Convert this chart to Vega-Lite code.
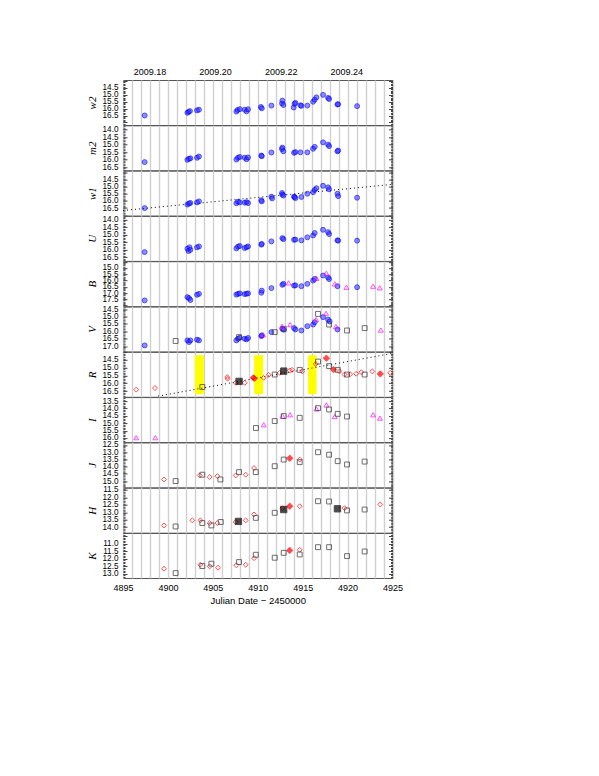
{
"$schema":"https://vega.github.io/schema/vega-lite/v6.json",
"padding":{"left":85,"top":66,"right":10,"bottom":10},
"background":"white",
"config":{"view":{"stroke":"#555555","strokeWidth":1},"axis":{"labelFont":"Liberation Sans","labelFontSize":8.2,"labelColor":"#000000","tickColor":"#444444","tickWidth":1,"titleColor":"#000000","labelOverlap":false}},
"datasets":{
"pts":[
{"b":"w2","k":"u","x":4897.41,"y":16.5},{"b":"w2","k":"u","x":4902.17,"y":16.3},{"b":"w2","k":"u","x":4902.3,"y":16.24},{"b":"w2","k":"u","x":4902.45,"y":16.18},{"b":"w2","k":"u","x":4903.24,"y":16.13},{"b":"w2","k":"u","x":4903.46,"y":16.08},{"b":"w2","k":"u","x":4907.62,"y":16.22},{"b":"w2","k":"u","x":4907.75,"y":16.1},{"b":"w2","k":"u","x":4908.0,"y":16.04},{"b":"w2","k":"u","x":4908.55,"y":16.08},{"b":"w2","k":"u","x":4908.75,"y":16.2},{"b":"w2","k":"u","x":4908.92,"y":16.05},{"b":"w2","k":"u","x":4910.35,"y":15.88},{"b":"w2","k":"u","x":4910.45,"y":15.98},{"b":"w2","k":"u","x":4911.52,"y":15.78},{"b":"w2","k":"u","x":4912.7,"y":15.62},{"b":"w2","k":"u","x":4912.74,"y":15.42},{"b":"w2","k":"u","x":4912.85,"y":15.74},{"b":"w2","k":"u","x":4914.0,"y":15.92},{"b":"w2","k":"u","x":4914.1,"y":15.65},{"b":"w2","k":"u","x":4914.19,"y":15.58},{"b":"w2","k":"u","x":4914.75,"y":15.76},{"b":"w2","k":"u","x":4914.86,"y":15.8},{"b":"w2","k":"u","x":4915.52,"y":15.78},{"b":"w2","k":"u","x":4916.16,"y":15.5},{"b":"w2","k":"u","x":4916.34,"y":15.35},{"b":"w2","k":"u","x":4916.53,"y":15.18},{"b":"w2","k":"u","x":4917.27,"y":15.0},{"b":"w2","k":"u","x":4917.83,"y":15.22},{"b":"w2","k":"u","x":4917.94,"y":15.3},{"b":"w2","k":"u","x":4918.87,"y":15.7},{"b":"w2","k":"u","x":4918.95,"y":15.68},{"b":"w2","k":"u","x":4921.06,"y":15.82},
{"b":"m2","k":"u","x":4897.41,"y":16.17},{"b":"m2","k":"u","x":4902.17,"y":16.02},{"b":"m2","k":"u","x":4902.35,"y":15.95},{"b":"m2","k":"u","x":4902.5,"y":15.92},{"b":"m2","k":"u","x":4903.24,"y":15.88},{"b":"m2","k":"u","x":4903.46,"y":15.8},{"b":"m2","k":"u","x":4907.62,"y":16.0},{"b":"m2","k":"u","x":4907.8,"y":15.88},{"b":"m2","k":"u","x":4908.0,"y":15.83},{"b":"m2","k":"u","x":4908.55,"y":15.88},{"b":"m2","k":"u","x":4908.75,"y":15.98},{"b":"m2","k":"u","x":4908.92,"y":15.86},{"b":"m2","k":"u","x":4910.4,"y":15.73},{"b":"m2","k":"u","x":4910.45,"y":15.78},{"b":"m2","k":"u","x":4911.52,"y":15.53},{"b":"m2","k":"u","x":4912.7,"y":15.3},{"b":"m2","k":"u","x":4912.74,"y":15.2},{"b":"m2","k":"u","x":4912.85,"y":15.45},{"b":"m2","k":"u","x":4914.04,"y":15.55},{"b":"m2","k":"u","x":4914.19,"y":15.5},{"b":"m2","k":"u","x":4914.75,"y":15.52},{"b":"m2","k":"u","x":4915.52,"y":15.52},{"b":"m2","k":"u","x":4916.16,"y":15.28},{"b":"m2","k":"u","x":4916.34,"y":15.15},{"b":"m2","k":"u","x":4917.27,"y":14.85},{"b":"m2","k":"u","x":4917.83,"y":15.0},{"b":"m2","k":"u","x":4917.94,"y":15.1},{"b":"m2","k":"u","x":4918.87,"y":15.45},{"b":"m2","k":"u","x":4918.95,"y":15.4},
{"b":"w1","k":"u","x":4897.41,"y":16.5},{"b":"w1","k":"u","x":4902.17,"y":16.25},{"b":"w1","k":"u","x":4902.35,"y":16.18},{"b":"w1","k":"u","x":4902.5,"y":16.14},{"b":"w1","k":"u","x":4903.24,"y":16.1},{"b":"w1","k":"u","x":4903.46,"y":16.03},{"b":"w1","k":"u","x":4907.62,"y":16.16},{"b":"w1","k":"u","x":4907.8,"y":16.05},{"b":"w1","k":"u","x":4908.0,"y":16.1},{"b":"w1","k":"u","x":4908.55,"y":16.12},{"b":"w1","k":"u","x":4908.75,"y":16.08},{"b":"w1","k":"u","x":4908.92,"y":16.15},{"b":"w1","k":"u","x":4910.4,"y":15.95},{"b":"w1","k":"u","x":4910.45,"y":16.03},{"b":"w1","k":"u","x":4911.52,"y":15.7},{"b":"w1","k":"u","x":4911.6,"y":15.82},{"b":"w1","k":"u","x":4912.7,"y":15.44},{"b":"w1","k":"u","x":4912.74,"y":15.55},{"b":"w1","k":"u","x":4912.85,"y":15.62},{"b":"w1","k":"u","x":4914.04,"y":15.7},{"b":"w1","k":"u","x":4914.1,"y":15.72},{"b":"w1","k":"u","x":4914.19,"y":15.8},{"b":"w1","k":"u","x":4914.86,"y":15.72},{"b":"w1","k":"u","x":4915.52,"y":15.49},{"b":"w1","k":"u","x":4916.16,"y":15.38},{"b":"w1","k":"u","x":4916.34,"y":15.22},{"b":"w1","k":"u","x":4916.53,"y":15.1},{"b":"w1","k":"u","x":4917.27,"y":14.93},{"b":"w1","k":"u","x":4917.83,"y":15.04},{"b":"w1","k":"u","x":4917.94,"y":15.18},{"b":"w1","k":"u","x":4918.87,"y":15.49},{"b":"w1","k":"u","x":4918.95,"y":15.66},{"b":"w1","k":"u","x":4921.06,"y":15.77},
{"b":"U","k":"u","x":4897.41,"y":16.17},{"b":"U","k":"u","x":4902.17,"y":15.94},{"b":"U","k":"u","x":4902.3,"y":16.1},{"b":"U","k":"u","x":4902.4,"y":15.85},{"b":"U","k":"u","x":4902.5,"y":16.02},{"b":"U","k":"u","x":4903.24,"y":15.85},{"b":"U","k":"u","x":4903.46,"y":15.79},{"b":"U","k":"u","x":4907.62,"y":15.92},{"b":"U","k":"u","x":4907.8,"y":15.8},{"b":"U","k":"u","x":4908.0,"y":15.76},{"b":"U","k":"u","x":4908.55,"y":15.9},{"b":"U","k":"u","x":4908.75,"y":15.84},{"b":"U","k":"u","x":4908.92,"y":15.79},{"b":"U","k":"u","x":4910.4,"y":15.67},{"b":"U","k":"u","x":4910.45,"y":15.62},{"b":"U","k":"u","x":4911.52,"y":15.45},{"b":"U","k":"u","x":4912.74,"y":15.23},{"b":"U","k":"u","x":4912.85,"y":15.3},{"b":"U","k":"u","x":4914.04,"y":15.34},{"b":"U","k":"u","x":4914.19,"y":15.33},{"b":"U","k":"u","x":4914.86,"y":15.38},{"b":"U","k":"u","x":4915.52,"y":15.18},{"b":"U","k":"u","x":4916.16,"y":15.05},{"b":"U","k":"u","x":4916.34,"y":14.89},{"b":"U","k":"u","x":4917.27,"y":14.67},{"b":"U","k":"u","x":4917.83,"y":14.83},{"b":"U","k":"u","x":4917.94,"y":14.96},{"b":"U","k":"u","x":4918.87,"y":15.38},{"b":"U","k":"u","x":4918.95,"y":15.4},{"b":"U","k":"u","x":4921.06,"y":15.4},
{"b":"B","k":"u","x":4897.41,"y":17.58},{"b":"B","k":"u","x":4902.17,"y":17.32},{"b":"B","k":"u","x":4902.35,"y":17.4},{"b":"B","k":"u","x":4902.5,"y":17.55},{"b":"B","k":"u","x":4903.24,"y":17.13},{"b":"B","k":"u","x":4903.46,"y":17.06},{"b":"B","k":"u","x":4907.62,"y":17.12},{"b":"B","k":"u","x":4907.8,"y":17.06},{"b":"B","k":"u","x":4908.0,"y":17.02},{"b":"B","k":"u","x":4908.55,"y":17.08},{"b":"B","k":"u","x":4908.75,"y":17.05},{"b":"B","k":"u","x":4908.92,"y":17.02},{"b":"B","k":"u","x":4910.4,"y":16.97},{"b":"B","k":"u","x":4910.45,"y":16.8},{"b":"B","k":"u","x":4911.52,"y":16.6},{"b":"B","k":"u","x":4912.74,"y":16.34},{"b":"B","k":"u","x":4912.85,"y":16.26},{"b":"B","k":"u","x":4914.04,"y":16.4},{"b":"B","k":"u","x":4914.19,"y":16.38},{"b":"B","k":"u","x":4914.86,"y":16.45},{"b":"B","k":"u","x":4915.52,"y":16.26},{"b":"B","k":"u","x":4916.16,"y":16.0},{"b":"B","k":"u","x":4916.34,"y":15.87},{"b":"B","k":"u","x":4917.27,"y":15.6},{"b":"B","k":"u","x":4917.83,"y":15.75},{"b":"B","k":"u","x":4917.94,"y":15.88},{"b":"B","k":"u","x":4918.87,"y":16.45},{"b":"B","k":"u","x":4921.06,"y":16.53},
{"b":"B","k":"m","x":4913.44,"y":16.18},{"b":"B","k":"m","x":4916.53,"y":15.82},{"b":"B","k":"m","x":4917.64,"y":15.42},{"b":"B","k":"m","x":4918.57,"y":16.26},{"b":"B","k":"m","x":4919.87,"y":16.53},{"b":"B","k":"m","x":4922.84,"y":16.45},{"b":"B","k":"m","x":4923.58,"y":16.58},
{"b":"V","k":"u","x":4897.41,"y":16.96},{"b":"V","k":"u","x":4902.17,"y":16.62},{"b":"V","k":"u","x":4902.35,"y":16.73},{"b":"V","k":"u","x":4902.5,"y":16.62},{"b":"V","k":"u","x":4903.24,"y":16.57},{"b":"V","k":"u","x":4903.46,"y":16.62},{"b":"V","k":"u","x":4907.62,"y":16.62},{"b":"V","k":"u","x":4907.8,"y":16.51},{"b":"V","k":"u","x":4908.0,"y":16.44},{"b":"V","k":"u","x":4908.55,"y":16.51},{"b":"V","k":"u","x":4908.75,"y":16.55},{"b":"V","k":"u","x":4908.92,"y":16.46},{"b":"V","k":"u","x":4910.4,"y":16.33},{"b":"V","k":"u","x":4910.45,"y":16.28},{"b":"V","k":"u","x":4911.52,"y":16.06},{"b":"V","k":"u","x":4912.74,"y":15.84},{"b":"V","k":"u","x":4912.9,"y":15.9},{"b":"V","k":"u","x":4914.04,"y":15.79},{"b":"V","k":"u","x":4914.19,"y":15.88},{"b":"V","k":"u","x":4914.86,"y":15.95},{"b":"V","k":"u","x":4915.52,"y":15.66},{"b":"V","k":"u","x":4916.16,"y":15.55},{"b":"V","k":"u","x":4916.34,"y":15.39},{"b":"V","k":"u","x":4917.27,"y":15.05},{"b":"V","k":"u","x":4917.83,"y":15.21},{"b":"V","k":"u","x":4918.0,"y":15.34},{"b":"V","k":"u","x":4918.87,"y":15.88},
{"b":"V","k":"b","x":4900.86,"y":16.66},{"b":"V","k":"b","x":4907.92,"y":16.4},{"b":"V","k":"b","x":4911.89,"y":16.06},{"b":"V","k":"b","x":4912.89,"y":15.84},{"b":"V","k":"b","x":4916.71,"y":14.83},{"b":"V","k":"b","x":4917.94,"y":15.55},{"b":"V","k":"b","x":4919.94,"y":15.95},{"b":"V","k":"b","x":4921.9,"y":15.79},
{"b":"V","k":"m","x":4910.6,"y":16.24},{"b":"V","k":"m","x":4912.7,"y":15.66},{"b":"V","k":"m","x":4913.6,"y":15.55},{"b":"V","k":"m","x":4916.5,"y":15.21},{"b":"V","k":"m","x":4917.6,"y":14.79},{"b":"V","k":"m","x":4918.7,"y":15.68},{"b":"V","k":"m","x":4923.7,"y":15.92},
{"b":"R","k":"r","x":4896.48,"y":16.41},{"b":"R","k":"r","x":4898.56,"y":16.31},{"b":"R","k":"r","x":4906.6,"y":15.6},{"b":"R","k":"r","x":4906.64,"y":15.71},{"b":"R","k":"r","x":4907.55,"y":15.97},{"b":"R","k":"r","x":4908.55,"y":15.97},{"b":"R","k":"r","x":4909.48,"y":15.65},{"b":"R","k":"r","x":4909.66,"y":15.71},{"b":"R","k":"r","x":4910.66,"y":15.65},{"b":"R","k":"r","x":4911.22,"y":15.46},{"b":"R","k":"r","x":4912.45,"y":15.33},{"b":"R","k":"r","x":4913.56,"y":15.18},{"b":"R","k":"r","x":4913.82,"y":15.14},{"b":"R","k":"r","x":4914.97,"y":15.24},{"b":"R","k":"r","x":4916.46,"y":14.76},{"b":"R","k":"r","x":4919.1,"y":15.24},{"b":"R","k":"r","x":4919.66,"y":15.44},{"b":"R","k":"r","x":4920.29,"y":15.42},{"b":"R","k":"r","x":4920.96,"y":15.39},{"b":"R","k":"r","x":4921.52,"y":15.29},{"b":"R","k":"r","x":4922.75,"y":15.24},{"b":"R","k":"r","x":4924.75,"y":15.33},
{"b":"R","k":"rf","x":4917.64,"y":14.39},{"b":"R","k":"rf","x":4918.45,"y":15.12},{"b":"R","k":"rf","x":4909.55,"y":15.66},{"b":"R","k":"rf","x":4923.64,"y":15.4},
{"b":"R","k":"b","x":4903.83,"y":16.24},{"b":"R","k":"b","x":4911.89,"y":15.44},{"b":"R","k":"b","x":4914.67,"y":15.14},{"b":"R","k":"b","x":4916.71,"y":14.61},{"b":"R","k":"b","x":4917.94,"y":14.9},{"b":"R","k":"b","x":4918.9,"y":15.14},{"b":"R","k":"b","x":4919.94,"y":15.44},{"b":"R","k":"b","x":4921.9,"y":15.44},
{"b":"R","k":"bf","x":4907.92,"y":15.88},{"b":"R","k":"bf","x":4912.89,"y":15.22},
{"b":"I","k":"m","x":4896.48,"y":15.98},{"b":"I","k":"m","x":4898.6,"y":15.98},{"b":"I","k":"m","x":4910.66,"y":15.1},{"b":"I","k":"m","x":4912.74,"y":14.51},{"b":"I","k":"m","x":4913.6,"y":14.42},{"b":"I","k":"m","x":4916.53,"y":14.02},{"b":"I","k":"m","x":4917.64,"y":13.75},{"b":"I","k":"m","x":4918.57,"y":14.54},{"b":"I","k":"m","x":4922.84,"y":14.42},{"b":"I","k":"m","x":4923.6,"y":14.65},
{"b":"I","k":"b","x":4909.8,"y":15.32},{"b":"I","k":"b","x":4911.89,"y":14.85},{"b":"I","k":"b","x":4912.89,"y":14.51},{"b":"I","k":"b","x":4914.67,"y":14.63},{"b":"I","k":"b","x":4916.71,"y":13.97},{"b":"I","k":"b","x":4917.94,"y":14.06},{"b":"I","k":"b","x":4918.9,"y":14.36},{"b":"I","k":"b","x":4919.94,"y":14.54},
{"b":"J","k":"r","x":4899.57,"y":14.89},{"b":"J","k":"r","x":4903.54,"y":14.61},{"b":"J","k":"r","x":4904.65,"y":14.72},{"b":"J","k":"r","x":4905.5,"y":14.66},{"b":"J","k":"r","x":4907.55,"y":14.61},{"b":"J","k":"r","x":4908.66,"y":14.56},{"b":"J","k":"r","x":4909.59,"y":14.1},{"b":"J","k":"r","x":4914.67,"y":13.51},
{"b":"J","k":"rf","x":4913.56,"y":13.42},
{"b":"J","k":"b","x":4900.86,"y":15.0},{"b":"J","k":"b","x":4903.83,"y":14.56},{"b":"J","k":"b","x":4905.84,"y":14.89},{"b":"J","k":"b","x":4907.92,"y":14.38},{"b":"J","k":"b","x":4909.78,"y":14.38},{"b":"J","k":"b","x":4911.89,"y":13.97},{"b":"J","k":"b","x":4912.89,"y":13.51},{"b":"J","k":"b","x":4914.67,"y":13.69},{"b":"J","k":"b","x":4916.71,"y":13.0},{"b":"J","k":"b","x":4917.94,"y":13.17},{"b":"J","k":"b","x":4918.9,"y":13.62},{"b":"J","k":"b","x":4919.94,"y":13.85},{"b":"J","k":"b","x":4921.9,"y":13.65},
{"b":"H","k":"r","x":4899.57,"y":13.89},{"b":"H","k":"r","x":4902.72,"y":13.55},{"b":"H","k":"r","x":4903.61,"y":13.55},{"b":"H","k":"r","x":4904.65,"y":13.73},{"b":"H","k":"r","x":4905.5,"y":13.73},{"b":"H","k":"r","x":4907.55,"y":13.66},{"b":"H","k":"r","x":4908.66,"y":13.55},{"b":"H","k":"r","x":4909.59,"y":13.15},{"b":"H","k":"r","x":4912.74,"y":12.73},{"b":"H","k":"r","x":4914.67,"y":12.6},{"b":"H","k":"r","x":4919.66,"y":12.73},{"b":"H","k":"r","x":4923.64,"y":12.48},
{"b":"H","k":"rf","x":4913.56,"y":12.6},
{"b":"H","k":"b","x":4900.86,"y":13.96},{"b":"H","k":"b","x":4903.83,"y":13.73},{"b":"H","k":"b","x":4904.84,"y":13.89},{"b":"H","k":"b","x":4905.88,"y":13.66},{"b":"H","k":"b","x":4909.78,"y":13.38},{"b":"H","k":"b","x":4911.89,"y":13.04},{"b":"H","k":"b","x":4916.71,"y":12.26},{"b":"H","k":"b","x":4917.94,"y":12.28},{"b":"H","k":"b","x":4919.94,"y":12.88},{"b":"H","k":"b","x":4921.9,"y":12.82},
{"b":"H","k":"bf","x":4907.85,"y":13.62},{"b":"H","k":"bf","x":4912.89,"y":12.82},{"b":"H","k":"bf","x":4918.87,"y":12.77},
{"b":"K","k":"r","x":4899.57,"y":12.67},{"b":"K","k":"r","x":4903.61,"y":12.4},{"b":"K","k":"r","x":4904.65,"y":12.51},{"b":"K","k":"r","x":4905.58,"y":12.6},{"b":"K","k":"r","x":4907.62,"y":12.44},{"b":"K","k":"r","x":4908.66,"y":12.4},{"b":"K","k":"r","x":4909.59,"y":11.96},{"b":"K","k":"r","x":4914.67,"y":11.4},
{"b":"K","k":"rf","x":4913.56,"y":11.44},
{"b":"K","k":"b","x":4900.86,"y":12.96},{"b":"K","k":"b","x":4903.83,"y":12.49},{"b":"K","k":"b","x":4904.84,"y":12.33},{"b":"K","k":"b","x":4907.92,"y":12.22},{"b":"K","k":"b","x":4909.78,"y":11.73},{"b":"K","k":"b","x":4911.89,"y":11.93},{"b":"K","k":"b","x":4912.89,"y":11.6},{"b":"K","k":"b","x":4914.67,"y":11.71},{"b":"K","k":"b","x":4916.71,"y":11.22},{"b":"K","k":"b","x":4917.94,"y":11.22},{"b":"K","k":"b","x":4919.94,"y":11.82},{"b":"K","k":"b","x":4921.9,"y":11.51}
],
"trend":[{"b":"w1","x":4895,"y":16.67},{"b":"w1","x":4925,"y":14.83},{"b":"R","x":4898.9,"y":16.83},{"b":"R","x":4925,"y":14.08}],
"boxes":[{"x0":4903.0,"x1":4904.0,"y0":14.2,"y1":16.7},{"x0":4909.6,"x1":4910.6,"y0":14.2,"y1":16.7},{"x0":4915.6,"x1":4916.55,"y0":14.2,"y1":16.7}]
},
"spacing":0.3,
"bounds":"flush",
"vconcat":[
{"width":269.5,"height":45,"data":{"name":"pts"},"transform":[{"filter":"datum.b=='w2'"}],"resolve":{"axis":{"x":"independent","y":"independent"}},
"layer":[
{"mark":{"type":"point","opacity":0},"encoding":{"x":{"field":"x","type":"quantitative","scale":{"domain":[4895,4925],"nice":false,"zero":false},"axis":{"orient":"bottom","values":[4895,4896,4897,4898,4899,4900,4901,4902,4903,4904,4905,4906,4907,4908,4909,4910,4911,4912,4913,4914,4915,4916,4917,4918,4919,4920,4921,4922,4923,4924,4925],"grid":true,"labels":false,"ticks":false,"domain":false,"title":null,"gridColor":"#d0d0d0","gridWidth":1.4}},"y":{"field":"y","type":"quantitative","scale":{"domain":[13.92,17.19],"reverse":true,"nice":false,"zero":false},"axis":{"orient":"left","values":[14.5,15,15.5,16,16.5],"format":".1f","ticks":false,"domain":false,"grid":false,"labelPadding":5,"title":"w2","titleFont":"Liberation Serif","titleFontStyle":"italic","titleFontWeight":"normal","titleFontSize":11,"titlePadding":5}}}},
{"mark":{"type":"point","opacity":0},"encoding":{"x":{"field":"x","type":"quantitative","scale":{"domain":[4895,4925],"nice":false,"zero":false},"axis":{"orient":"top","values":[4897.95,4905.25,4912.55,4919.85],"labelExpr":"datum.value < 4900 ? '2009.18' : datum.value < 4910 ? '2009.20' : datum.value < 4915 ? '2009.22' : '2009.24'","ticks":false,"domain":false,"grid":false,"labelPadding":4,"labelFontSize":9,"labelFlush":false,"title":null}},"y":{"field":"y","type":"quantitative","scale":{"domain":[13.92,17.19],"reverse":true,"nice":false,"zero":false},"axis":{"orient":"left","tickCount":6,"labels":false,"domain":false,"grid":false,"tickSize":4,"offset":-4,"title":null}}}},
{"mark":{"type":"point","opacity":0},"encoding":{"x":{"field":"x","type":"quantitative","scale":{"domain":[4895,4925],"nice":false,"zero":false},"axis":null},"y":{"field":"y","type":"quantitative","scale":{"domain":[13.92,17.19],"reverse":true,"nice":false,"zero":false},"axis":{"orient":"left","tickCount":30,"labels":false,"domain":false,"grid":false,"tickSize":2,"offset":-2,"title":null}}}},
{"mark":{"type":"point","opacity":0},"encoding":{"x":{"field":"x","type":"quantitative","scale":{"domain":[4895,4925],"nice":false,"zero":false},"axis":null},"y":{"field":"y","type":"quantitative","scale":{"domain":[13.92,17.19],"reverse":true,"nice":false,"zero":false},"axis":{"orient":"right","tickCount":6,"labels":false,"domain":false,"grid":false,"tickSize":4,"offset":-4,"title":null}}}},
{"mark":{"type":"point","opacity":0},"encoding":{"x":{"field":"x","type":"quantitative","scale":{"domain":[4895,4925],"nice":false,"zero":false},"axis":null},"y":{"field":"y","type":"quantitative","scale":{"domain":[13.92,17.19],"reverse":true,"nice":false,"zero":false},"axis":{"orient":"right","tickCount":30,"labels":false,"domain":false,"grid":false,"tickSize":2,"offset":-2,"title":null}}}},
{"mark":{"type":"point","filled":true,"strokeWidth":1},"encoding":{"x":{"field":"x","type":"quantitative","scale":{"domain":[4895,4925],"nice":false,"zero":false},"axis":null},"y":{"field":"y","type":"quantitative","scale":{"domain":[13.92,17.19],"reverse":true,"nice":false,"zero":false},"axis":null},"shape":{"field":"k","type":"nominal","scale":{"domain":["u","r","rf","b","bf","m"],"range":["circle","diamond","diamond","square","square","triangle-up"]},"legend":null},"stroke":{"field":"k","type":"nominal","scale":{"domain":["u","r","rf","b","bf","m"],"range":["#0000ff","#ff0000","#ff0000","#333333","#000000","#ff00ff"]},"legend":null},"fill":{"field":"k","type":"nominal","scale":{"domain":["u","r","rf","b","bf","m"],"range":["rgba(40,40,255,0.75)","transparent","#ff0000","transparent","#000000","transparent"]},"legend":null},"size":{"condition":{"test":"datum.k=='bf'||datum.k=='rf'","value":40},"value":24}}}
]},
{"width":269.5,"height":45,"data":{"name":"pts"},"transform":[{"filter":"datum.b=='m2'"}],"resolve":{"axis":{"x":"independent","y":"independent"}},
"layer":[
{"mark":{"type":"point","opacity":0},"encoding":{"x":{"field":"x","type":"quantitative","scale":{"domain":[4895,4925],"nice":false,"zero":false},"axis":{"orient":"bottom","values":[4895,4896,4897,4898,4899,4900,4901,4902,4903,4904,4905,4906,4907,4908,4909,4910,4911,4912,4913,4914,4915,4916,4917,4918,4919,4920,4921,4922,4923,4924,4925],"grid":true,"labels":false,"ticks":false,"domain":false,"title":null,"gridColor":"#d0d0d0","gridWidth":1.4}},"y":{"field":"y","type":"quantitative","scale":{"domain":[13.71,16.72],"reverse":true,"nice":false,"zero":false},"axis":{"orient":"left","values":[14,14.5,15,15.5,16,16.5],"format":".1f","ticks":false,"domain":false,"grid":false,"labelPadding":5,"title":"m2","titleFont":"Liberation Serif","titleFontStyle":"italic","titleFontWeight":"normal","titleFontSize":11,"titlePadding":5}}}},
{"mark":{"type":"point","opacity":0},"encoding":{"x":{"field":"x","type":"quantitative","scale":{"domain":[4895,4925],"nice":false,"zero":false},"axis":null},"y":{"field":"y","type":"quantitative","scale":{"domain":[13.71,16.72],"reverse":true,"nice":false,"zero":false},"axis":{"orient":"left","tickCount":6,"labels":false,"domain":false,"grid":false,"tickSize":4,"offset":-4,"title":null}}}},
{"mark":{"type":"point","opacity":0},"encoding":{"x":{"field":"x","type":"quantitative","scale":{"domain":[4895,4925],"nice":false,"zero":false},"axis":null},"y":{"field":"y","type":"quantitative","scale":{"domain":[13.71,16.72],"reverse":true,"nice":false,"zero":false},"axis":{"orient":"left","tickCount":30,"labels":false,"domain":false,"grid":false,"tickSize":2,"offset":-2,"title":null}}}},
{"mark":{"type":"point","opacity":0},"encoding":{"x":{"field":"x","type":"quantitative","scale":{"domain":[4895,4925],"nice":false,"zero":false},"axis":null},"y":{"field":"y","type":"quantitative","scale":{"domain":[13.71,16.72],"reverse":true,"nice":false,"zero":false},"axis":{"orient":"right","tickCount":6,"labels":false,"domain":false,"grid":false,"tickSize":4,"offset":-4,"title":null}}}},
{"mark":{"type":"point","opacity":0},"encoding":{"x":{"field":"x","type":"quantitative","scale":{"domain":[4895,4925],"nice":false,"zero":false},"axis":null},"y":{"field":"y","type":"quantitative","scale":{"domain":[13.71,16.72],"reverse":true,"nice":false,"zero":false},"axis":{"orient":"right","tickCount":30,"labels":false,"domain":false,"grid":false,"tickSize":2,"offset":-2,"title":null}}}},
{"mark":{"type":"point","filled":true,"strokeWidth":1},"encoding":{"x":{"field":"x","type":"quantitative","scale":{"domain":[4895,4925],"nice":false,"zero":false},"axis":null},"y":{"field":"y","type":"quantitative","scale":{"domain":[13.71,16.72],"reverse":true,"nice":false,"zero":false},"axis":null},"shape":{"field":"k","type":"nominal","scale":{"domain":["u","r","rf","b","bf","m"],"range":["circle","diamond","diamond","square","square","triangle-up"]},"legend":null},"stroke":{"field":"k","type":"nominal","scale":{"domain":["u","r","rf","b","bf","m"],"range":["#0000ff","#ff0000","#ff0000","#333333","#000000","#ff00ff"]},"legend":null},"fill":{"field":"k","type":"nominal","scale":{"domain":["u","r","rf","b","bf","m"],"range":["rgba(40,40,255,0.75)","transparent","#ff0000","transparent","#000000","transparent"]},"legend":null},"size":{"condition":{"test":"datum.k=='bf'||datum.k=='rf'","value":40},"value":24}}}
]},
{"width":269.5,"height":45,"data":{"name":"pts"},"transform":[{"filter":"datum.b=='w1'"}],"resolve":{"axis":{"x":"independent","y":"independent"}},
"layer":[
{"mark":{"type":"point","opacity":0},"encoding":{"x":{"field":"x","type":"quantitative","scale":{"domain":[4895,4925],"nice":false,"zero":false},"axis":{"orient":"bottom","values":[4895,4896,4897,4898,4899,4900,4901,4902,4903,4904,4905,4906,4907,4908,4909,4910,4911,4912,4913,4914,4915,4916,4917,4918,4919,4920,4921,4922,4923,4924,4925],"grid":true,"labels":false,"ticks":false,"domain":false,"title":null,"gridColor":"#d0d0d0","gridWidth":1.4}},"y":{"field":"y","type":"quantitative","scale":{"domain":[13.86,17.03],"reverse":true,"nice":false,"zero":false},"axis":{"orient":"left","values":[14.5,15,15.5,16,16.5],"format":".1f","ticks":false,"domain":false,"grid":false,"labelPadding":5,"title":"w1","titleFont":"Liberation Serif","titleFontStyle":"italic","titleFontWeight":"normal","titleFontSize":11,"titlePadding":5}}}},
{"mark":{"type":"point","opacity":0},"encoding":{"x":{"field":"x","type":"quantitative","scale":{"domain":[4895,4925],"nice":false,"zero":false},"axis":null},"y":{"field":"y","type":"quantitative","scale":{"domain":[13.86,17.03],"reverse":true,"nice":false,"zero":false},"axis":{"orient":"left","tickCount":6,"labels":false,"domain":false,"grid":false,"tickSize":4,"offset":-4,"title":null}}}},
{"mark":{"type":"point","opacity":0},"encoding":{"x":{"field":"x","type":"quantitative","scale":{"domain":[4895,4925],"nice":false,"zero":false},"axis":null},"y":{"field":"y","type":"quantitative","scale":{"domain":[13.86,17.03],"reverse":true,"nice":false,"zero":false},"axis":{"orient":"left","tickCount":30,"labels":false,"domain":false,"grid":false,"tickSize":2,"offset":-2,"title":null}}}},
{"mark":{"type":"point","opacity":0},"encoding":{"x":{"field":"x","type":"quantitative","scale":{"domain":[4895,4925],"nice":false,"zero":false},"axis":null},"y":{"field":"y","type":"quantitative","scale":{"domain":[13.86,17.03],"reverse":true,"nice":false,"zero":false},"axis":{"orient":"right","tickCount":6,"labels":false,"domain":false,"grid":false,"tickSize":4,"offset":-4,"title":null}}}},
{"mark":{"type":"point","opacity":0},"encoding":{"x":{"field":"x","type":"quantitative","scale":{"domain":[4895,4925],"nice":false,"zero":false},"axis":null},"y":{"field":"y","type":"quantitative","scale":{"domain":[13.86,17.03],"reverse":true,"nice":false,"zero":false},"axis":{"orient":"right","tickCount":30,"labels":false,"domain":false,"grid":false,"tickSize":2,"offset":-2,"title":null}}}},
{"data":{"name":"trend"},"transform":[{"filter":"datum.b=='w1'"}],"mark":{"type":"line","strokeDash":[1,3],"color":"#000000","strokeWidth":1,"clip":true},"encoding":{"x":{"field":"x","type":"quantitative","scale":{"domain":[4895,4925],"nice":false,"zero":false},"axis":null},"y":{"field":"y","type":"quantitative","scale":{"domain":[13.86,17.03],"reverse":true,"nice":false,"zero":false},"axis":null}}},
{"mark":{"type":"point","filled":true,"strokeWidth":1},"encoding":{"x":{"field":"x","type":"quantitative","scale":{"domain":[4895,4925],"nice":false,"zero":false},"axis":null},"y":{"field":"y","type":"quantitative","scale":{"domain":[13.86,17.03],"reverse":true,"nice":false,"zero":false},"axis":null},"shape":{"field":"k","type":"nominal","scale":{"domain":["u","r","rf","b","bf","m"],"range":["circle","diamond","diamond","square","square","triangle-up"]},"legend":null},"stroke":{"field":"k","type":"nominal","scale":{"domain":["u","r","rf","b","bf","m"],"range":["#0000ff","#ff0000","#ff0000","#333333","#000000","#ff00ff"]},"legend":null},"fill":{"field":"k","type":"nominal","scale":{"domain":["u","r","rf","b","bf","m"],"range":["rgba(40,40,255,0.75)","transparent","#ff0000","transparent","#000000","transparent"]},"legend":null},"size":{"condition":{"test":"datum.k=='bf'||datum.k=='rf'","value":40},"value":24}}}
]},
{"width":269.5,"height":45,"data":{"name":"pts"},"transform":[{"filter":"datum.b=='U'"}],"resolve":{"axis":{"x":"independent","y":"independent"}},
"layer":[
{"mark":{"type":"point","opacity":0},"encoding":{"x":{"field":"x","type":"quantitative","scale":{"domain":[4895,4925],"nice":false,"zero":false},"axis":{"orient":"bottom","values":[4895,4896,4897,4898,4899,4900,4901,4902,4903,4904,4905,4906,4907,4908,4909,4910,4911,4912,4913,4914,4915,4916,4917,4918,4919,4920,4921,4922,4923,4924,4925],"grid":true,"labels":false,"ticks":false,"domain":false,"title":null,"gridColor":"#d0d0d0","gridWidth":1.4}},"y":{"field":"y","type":"quantitative","scale":{"domain":[13.74,16.76],"reverse":true,"nice":false,"zero":false},"axis":{"orient":"left","values":[14,14.5,15,15.5,16,16.5],"format":".1f","ticks":false,"domain":false,"grid":false,"labelPadding":5,"title":"U","titleFont":"Liberation Serif","titleFontStyle":"italic","titleFontWeight":"normal","titleFontSize":11,"titlePadding":5}}}},
{"mark":{"type":"point","opacity":0},"encoding":{"x":{"field":"x","type":"quantitative","scale":{"domain":[4895,4925],"nice":false,"zero":false},"axis":null},"y":{"field":"y","type":"quantitative","scale":{"domain":[13.74,16.76],"reverse":true,"nice":false,"zero":false},"axis":{"orient":"left","tickCount":6,"labels":false,"domain":false,"grid":false,"tickSize":4,"offset":-4,"title":null}}}},
{"mark":{"type":"point","opacity":0},"encoding":{"x":{"field":"x","type":"quantitative","scale":{"domain":[4895,4925],"nice":false,"zero":false},"axis":null},"y":{"field":"y","type":"quantitative","scale":{"domain":[13.74,16.76],"reverse":true,"nice":false,"zero":false},"axis":{"orient":"left","tickCount":30,"labels":false,"domain":false,"grid":false,"tickSize":2,"offset":-2,"title":null}}}},
{"mark":{"type":"point","opacity":0},"encoding":{"x":{"field":"x","type":"quantitative","scale":{"domain":[4895,4925],"nice":false,"zero":false},"axis":null},"y":{"field":"y","type":"quantitative","scale":{"domain":[13.74,16.76],"reverse":true,"nice":false,"zero":false},"axis":{"orient":"right","tickCount":6,"labels":false,"domain":false,"grid":false,"tickSize":4,"offset":-4,"title":null}}}},
{"mark":{"type":"point","opacity":0},"encoding":{"x":{"field":"x","type":"quantitative","scale":{"domain":[4895,4925],"nice":false,"zero":false},"axis":null},"y":{"field":"y","type":"quantitative","scale":{"domain":[13.74,16.76],"reverse":true,"nice":false,"zero":false},"axis":{"orient":"right","tickCount":30,"labels":false,"domain":false,"grid":false,"tickSize":2,"offset":-2,"title":null}}}},
{"mark":{"type":"point","filled":true,"strokeWidth":1},"encoding":{"x":{"field":"x","type":"quantitative","scale":{"domain":[4895,4925],"nice":false,"zero":false},"axis":null},"y":{"field":"y","type":"quantitative","scale":{"domain":[13.74,16.76],"reverse":true,"nice":false,"zero":false},"axis":null},"shape":{"field":"k","type":"nominal","scale":{"domain":["u","r","rf","b","bf","m"],"range":["circle","diamond","diamond","square","square","triangle-up"]},"legend":null},"stroke":{"field":"k","type":"nominal","scale":{"domain":["u","r","rf","b","bf","m"],"range":["#0000ff","#ff0000","#ff0000","#333333","#000000","#ff00ff"]},"legend":null},"fill":{"field":"k","type":"nominal","scale":{"domain":["u","r","rf","b","bf","m"],"range":["rgba(40,40,255,0.75)","transparent","#ff0000","transparent","#000000","transparent"]},"legend":null},"size":{"condition":{"test":"datum.k=='bf'||datum.k=='rf'","value":40},"value":24}}}
]},
{"width":269.5,"height":45,"data":{"name":"pts"},"transform":[{"filter":"datum.b=='B'"}],"resolve":{"axis":{"x":"independent","y":"independent"}},
"layer":[
{"mark":{"type":"point","opacity":0},"encoding":{"x":{"field":"x","type":"quantitative","scale":{"domain":[4895,4925],"nice":false,"zero":false},"axis":{"orient":"bottom","values":[4895,4896,4897,4898,4899,4900,4901,4902,4903,4904,4905,4906,4907,4908,4909,4910,4911,4912,4913,4914,4915,4916,4917,4918,4919,4920,4921,4922,4923,4924,4925],"grid":true,"labels":false,"ticks":false,"domain":false,"title":null,"gridColor":"#d0d0d0","gridWidth":1.4}},"y":{"field":"y","type":"quantitative","scale":{"domain":[14.46,18.04],"reverse":true,"nice":false,"zero":false},"axis":{"orient":"left","values":[15,15.5,16,16.5,17,17.5],"format":".1f","ticks":false,"domain":false,"grid":false,"labelPadding":5,"title":"B","titleFont":"Liberation Serif","titleFontStyle":"italic","titleFontWeight":"normal","titleFontSize":11,"titlePadding":5}}}},
{"mark":{"type":"point","opacity":0},"encoding":{"x":{"field":"x","type":"quantitative","scale":{"domain":[4895,4925],"nice":false,"zero":false},"axis":null},"y":{"field":"y","type":"quantitative","scale":{"domain":[14.46,18.04],"reverse":true,"nice":false,"zero":false},"axis":{"orient":"left","tickCount":6,"labels":false,"domain":false,"grid":false,"tickSize":4,"offset":-4,"title":null}}}},
{"mark":{"type":"point","opacity":0},"encoding":{"x":{"field":"x","type":"quantitative","scale":{"domain":[4895,4925],"nice":false,"zero":false},"axis":null},"y":{"field":"y","type":"quantitative","scale":{"domain":[14.46,18.04],"reverse":true,"nice":false,"zero":false},"axis":{"orient":"left","tickCount":30,"labels":false,"domain":false,"grid":false,"tickSize":2,"offset":-2,"title":null}}}},
{"mark":{"type":"point","opacity":0},"encoding":{"x":{"field":"x","type":"quantitative","scale":{"domain":[4895,4925],"nice":false,"zero":false},"axis":null},"y":{"field":"y","type":"quantitative","scale":{"domain":[14.46,18.04],"reverse":true,"nice":false,"zero":false},"axis":{"orient":"right","tickCount":6,"labels":false,"domain":false,"grid":false,"tickSize":4,"offset":-4,"title":null}}}},
{"mark":{"type":"point","opacity":0},"encoding":{"x":{"field":"x","type":"quantitative","scale":{"domain":[4895,4925],"nice":false,"zero":false},"axis":null},"y":{"field":"y","type":"quantitative","scale":{"domain":[14.46,18.04],"reverse":true,"nice":false,"zero":false},"axis":{"orient":"right","tickCount":30,"labels":false,"domain":false,"grid":false,"tickSize":2,"offset":-2,"title":null}}}},
{"mark":{"type":"point","filled":true,"strokeWidth":1},"encoding":{"x":{"field":"x","type":"quantitative","scale":{"domain":[4895,4925],"nice":false,"zero":false},"axis":null},"y":{"field":"y","type":"quantitative","scale":{"domain":[14.46,18.04],"reverse":true,"nice":false,"zero":false},"axis":null},"shape":{"field":"k","type":"nominal","scale":{"domain":["u","r","rf","b","bf","m"],"range":["circle","diamond","diamond","square","square","triangle-up"]},"legend":null},"stroke":{"field":"k","type":"nominal","scale":{"domain":["u","r","rf","b","bf","m"],"range":["#0000ff","#ff0000","#ff0000","#333333","#000000","#ff00ff"]},"legend":null},"fill":{"field":"k","type":"nominal","scale":{"domain":["u","r","rf","b","bf","m"],"range":["rgba(40,40,255,0.75)","transparent","#ff0000","transparent","#000000","transparent"]},"legend":null},"size":{"condition":{"test":"datum.k=='bf'||datum.k=='rf'","value":40},"value":24}}}
]},
{"width":269.5,"height":45,"data":{"name":"pts"},"transform":[{"filter":"datum.b=='V'"}],"resolve":{"axis":{"x":"independent","y":"independent"}},
"layer":[
{"mark":{"type":"point","opacity":0},"encoding":{"x":{"field":"x","type":"quantitative","scale":{"domain":[4895,4925],"nice":false,"zero":false},"axis":{"orient":"bottom","values":[4895,4896,4897,4898,4899,4900,4901,4902,4903,4904,4905,4906,4907,4908,4909,4910,4911,4912,4913,4914,4915,4916,4917,4918,4919,4920,4921,4922,4923,4924,4925],"grid":true,"labels":false,"ticks":false,"domain":false,"title":null,"gridColor":"#d0d0d0","gridWidth":1.4}},"y":{"field":"y","type":"quantitative","scale":{"domain":[14.33,17.37],"reverse":true,"nice":false,"zero":false},"axis":{"orient":"left","values":[14.5,15,15.5,16,16.5,17],"format":".1f","ticks":false,"domain":false,"grid":false,"labelPadding":5,"title":"V","titleFont":"Liberation Serif","titleFontStyle":"italic","titleFontWeight":"normal","titleFontSize":11,"titlePadding":5}}}},
{"mark":{"type":"point","opacity":0},"encoding":{"x":{"field":"x","type":"quantitative","scale":{"domain":[4895,4925],"nice":false,"zero":false},"axis":null},"y":{"field":"y","type":"quantitative","scale":{"domain":[14.33,17.37],"reverse":true,"nice":false,"zero":false},"axis":{"orient":"left","tickCount":6,"labels":false,"domain":false,"grid":false,"tickSize":4,"offset":-4,"title":null}}}},
{"mark":{"type":"point","opacity":0},"encoding":{"x":{"field":"x","type":"quantitative","scale":{"domain":[4895,4925],"nice":false,"zero":false},"axis":null},"y":{"field":"y","type":"quantitative","scale":{"domain":[14.33,17.37],"reverse":true,"nice":false,"zero":false},"axis":{"orient":"left","tickCount":30,"labels":false,"domain":false,"grid":false,"tickSize":2,"offset":-2,"title":null}}}},
{"mark":{"type":"point","opacity":0},"encoding":{"x":{"field":"x","type":"quantitative","scale":{"domain":[4895,4925],"nice":false,"zero":false},"axis":null},"y":{"field":"y","type":"quantitative","scale":{"domain":[14.33,17.37],"reverse":true,"nice":false,"zero":false},"axis":{"orient":"right","tickCount":6,"labels":false,"domain":false,"grid":false,"tickSize":4,"offset":-4,"title":null}}}},
{"mark":{"type":"point","opacity":0},"encoding":{"x":{"field":"x","type":"quantitative","scale":{"domain":[4895,4925],"nice":false,"zero":false},"axis":null},"y":{"field":"y","type":"quantitative","scale":{"domain":[14.33,17.37],"reverse":true,"nice":false,"zero":false},"axis":{"orient":"right","tickCount":30,"labels":false,"domain":false,"grid":false,"tickSize":2,"offset":-2,"title":null}}}},
{"mark":{"type":"point","filled":true,"strokeWidth":1},"encoding":{"x":{"field":"x","type":"quantitative","scale":{"domain":[4895,4925],"nice":false,"zero":false},"axis":null},"y":{"field":"y","type":"quantitative","scale":{"domain":[14.33,17.37],"reverse":true,"nice":false,"zero":false},"axis":null},"shape":{"field":"k","type":"nominal","scale":{"domain":["u","r","rf","b","bf","m"],"range":["circle","diamond","diamond","square","square","triangle-up"]},"legend":null},"stroke":{"field":"k","type":"nominal","scale":{"domain":["u","r","rf","b","bf","m"],"range":["#0000ff","#ff0000","#ff0000","#333333","#000000","#ff00ff"]},"legend":null},"fill":{"field":"k","type":"nominal","scale":{"domain":["u","r","rf","b","bf","m"],"range":["rgba(40,40,255,0.75)","transparent","#ff0000","transparent","#000000","transparent"]},"legend":null},"size":{"condition":{"test":"datum.k=='bf'||datum.k=='rf'","value":40},"value":24}}}
]},
{"width":269.5,"height":45,"data":{"name":"pts"},"transform":[{"filter":"datum.b=='R'"}],"resolve":{"axis":{"x":"independent","y":"independent"}},
"layer":[
{"mark":{"type":"point","opacity":0},"encoding":{"x":{"field":"x","type":"quantitative","scale":{"domain":[4895,4925],"nice":false,"zero":false},"axis":{"orient":"bottom","values":[4895,4896,4897,4898,4899,4900,4901,4902,4903,4904,4905,4906,4907,4908,4909,4910,4911,4912,4913,4914,4915,4916,4917,4918,4919,4920,4921,4922,4923,4924,4925],"grid":true,"labels":false,"ticks":false,"domain":false,"title":null,"gridColor":"#d0d0d0","gridWidth":1.4}},"y":{"field":"y","type":"quantitative","scale":{"domain":[13.98,16.87],"reverse":true,"nice":false,"zero":false},"axis":{"orient":"left","values":[14.5,15,15.5,16,16.5],"format":".1f","ticks":false,"domain":false,"grid":false,"labelPadding":5,"title":"R","titleFont":"Liberation Serif","titleFontStyle":"italic","titleFontWeight":"normal","titleFontSize":11,"titlePadding":5}}}},
{"mark":{"type":"point","opacity":0},"encoding":{"x":{"field":"x","type":"quantitative","scale":{"domain":[4895,4925],"nice":false,"zero":false},"axis":null},"y":{"field":"y","type":"quantitative","scale":{"domain":[13.98,16.87],"reverse":true,"nice":false,"zero":false},"axis":{"orient":"left","tickCount":6,"labels":false,"domain":false,"grid":false,"tickSize":4,"offset":-4,"title":null}}}},
{"mark":{"type":"point","opacity":0},"encoding":{"x":{"field":"x","type":"quantitative","scale":{"domain":[4895,4925],"nice":false,"zero":false},"axis":null},"y":{"field":"y","type":"quantitative","scale":{"domain":[13.98,16.87],"reverse":true,"nice":false,"zero":false},"axis":{"orient":"left","tickCount":30,"labels":false,"domain":false,"grid":false,"tickSize":2,"offset":-2,"title":null}}}},
{"mark":{"type":"point","opacity":0},"encoding":{"x":{"field":"x","type":"quantitative","scale":{"domain":[4895,4925],"nice":false,"zero":false},"axis":null},"y":{"field":"y","type":"quantitative","scale":{"domain":[13.98,16.87],"reverse":true,"nice":false,"zero":false},"axis":{"orient":"right","tickCount":6,"labels":false,"domain":false,"grid":false,"tickSize":4,"offset":-4,"title":null}}}},
{"mark":{"type":"point","opacity":0},"encoding":{"x":{"field":"x","type":"quantitative","scale":{"domain":[4895,4925],"nice":false,"zero":false},"axis":null},"y":{"field":"y","type":"quantitative","scale":{"domain":[13.98,16.87],"reverse":true,"nice":false,"zero":false},"axis":{"orient":"right","tickCount":30,"labels":false,"domain":false,"grid":false,"tickSize":2,"offset":-2,"title":null}}}},
{"data":{"name":"boxes"},"mark":{"type":"rect","color":"#ffff00"},"encoding":{"x":{"field":"x0","type":"quantitative","scale":{"domain":[4895,4925],"nice":false,"zero":false},"axis":null},"x2":{"field":"x1"},"y":{"field":"y0","type":"quantitative","scale":{"domain":[13.98,16.87],"reverse":true,"nice":false,"zero":false},"axis":null},"y2":{"field":"y1"}}},
{"data":{"name":"trend"},"transform":[{"filter":"datum.b=='R'"}],"mark":{"type":"line","strokeDash":[1,3],"color":"#000000","strokeWidth":1,"clip":true},"encoding":{"x":{"field":"x","type":"quantitative","scale":{"domain":[4895,4925],"nice":false,"zero":false},"axis":null},"y":{"field":"y","type":"quantitative","scale":{"domain":[13.98,16.87],"reverse":true,"nice":false,"zero":false},"axis":null}}},
{"mark":{"type":"point","filled":true,"strokeWidth":1},"encoding":{"x":{"field":"x","type":"quantitative","scale":{"domain":[4895,4925],"nice":false,"zero":false},"axis":null},"y":{"field":"y","type":"quantitative","scale":{"domain":[13.98,16.87],"reverse":true,"nice":false,"zero":false},"axis":null},"shape":{"field":"k","type":"nominal","scale":{"domain":["u","r","rf","b","bf","m"],"range":["circle","diamond","diamond","square","square","triangle-up"]},"legend":null},"stroke":{"field":"k","type":"nominal","scale":{"domain":["u","r","rf","b","bf","m"],"range":["#0000ff","#ff0000","#ff0000","#333333","#000000","#ff00ff"]},"legend":null},"fill":{"field":"k","type":"nominal","scale":{"domain":["u","r","rf","b","bf","m"],"range":["rgba(40,40,255,0.75)","transparent","#ff0000","transparent","#000000","transparent"]},"legend":null},"size":{"condition":{"test":"datum.k=='bf'||datum.k=='rf'","value":40},"value":24}}}
]},
{"width":269.5,"height":45,"data":{"name":"pts"},"transform":[{"filter":"datum.b=='I'"}],"resolve":{"axis":{"x":"independent","y":"independent"}},
"layer":[
{"mark":{"type":"point","opacity":0},"encoding":{"x":{"field":"x","type":"quantitative","scale":{"domain":[4895,4925],"nice":false,"zero":false},"axis":{"orient":"bottom","values":[4895,4896,4897,4898,4899,4900,4901,4902,4903,4904,4905,4906,4907,4908,4909,4910,4911,4912,4913,4914,4915,4916,4917,4918,4919,4920,4921,4922,4923,4924,4925],"grid":true,"labels":false,"ticks":false,"domain":false,"title":null,"gridColor":"#d0d0d0","gridWidth":1.4}},"y":{"field":"y","type":"quantitative","scale":{"domain":[13.22,16.28],"reverse":true,"nice":false,"zero":false},"axis":{"orient":"left","values":[13.5,14,14.5,15,15.5,16],"format":".1f","ticks":false,"domain":false,"grid":false,"labelPadding":5,"title":"I","titleFont":"Liberation Serif","titleFontStyle":"italic","titleFontWeight":"normal","titleFontSize":11,"titlePadding":5}}}},
{"mark":{"type":"point","opacity":0},"encoding":{"x":{"field":"x","type":"quantitative","scale":{"domain":[4895,4925],"nice":false,"zero":false},"axis":null},"y":{"field":"y","type":"quantitative","scale":{"domain":[13.22,16.28],"reverse":true,"nice":false,"zero":false},"axis":{"orient":"left","tickCount":6,"labels":false,"domain":false,"grid":false,"tickSize":4,"offset":-4,"title":null}}}},
{"mark":{"type":"point","opacity":0},"encoding":{"x":{"field":"x","type":"quantitative","scale":{"domain":[4895,4925],"nice":false,"zero":false},"axis":null},"y":{"field":"y","type":"quantitative","scale":{"domain":[13.22,16.28],"reverse":true,"nice":false,"zero":false},"axis":{"orient":"left","tickCount":30,"labels":false,"domain":false,"grid":false,"tickSize":2,"offset":-2,"title":null}}}},
{"mark":{"type":"point","opacity":0},"encoding":{"x":{"field":"x","type":"quantitative","scale":{"domain":[4895,4925],"nice":false,"zero":false},"axis":null},"y":{"field":"y","type":"quantitative","scale":{"domain":[13.22,16.28],"reverse":true,"nice":false,"zero":false},"axis":{"orient":"right","tickCount":6,"labels":false,"domain":false,"grid":false,"tickSize":4,"offset":-4,"title":null}}}},
{"mark":{"type":"point","opacity":0},"encoding":{"x":{"field":"x","type":"quantitative","scale":{"domain":[4895,4925],"nice":false,"zero":false},"axis":null},"y":{"field":"y","type":"quantitative","scale":{"domain":[13.22,16.28],"reverse":true,"nice":false,"zero":false},"axis":{"orient":"right","tickCount":30,"labels":false,"domain":false,"grid":false,"tickSize":2,"offset":-2,"title":null}}}},
{"mark":{"type":"point","filled":true,"strokeWidth":1},"encoding":{"x":{"field":"x","type":"quantitative","scale":{"domain":[4895,4925],"nice":false,"zero":false},"axis":null},"y":{"field":"y","type":"quantitative","scale":{"domain":[13.22,16.28],"reverse":true,"nice":false,"zero":false},"axis":null},"shape":{"field":"k","type":"nominal","scale":{"domain":["u","r","rf","b","bf","m"],"range":["circle","diamond","diamond","square","square","triangle-up"]},"legend":null},"stroke":{"field":"k","type":"nominal","scale":{"domain":["u","r","rf","b","bf","m"],"range":["#0000ff","#ff0000","#ff0000","#333333","#000000","#ff00ff"]},"legend":null},"fill":{"field":"k","type":"nominal","scale":{"domain":["u","r","rf","b","bf","m"],"range":["rgba(40,40,255,0.75)","transparent","#ff0000","transparent","#000000","transparent"]},"legend":null},"size":{"condition":{"test":"datum.k=='bf'||datum.k=='rf'","value":40},"value":24}}}
]},
{"width":269.5,"height":45,"data":{"name":"pts"},"transform":[{"filter":"datum.b=='J'"}],"resolve":{"axis":{"x":"independent","y":"independent"}},
"layer":[
{"mark":{"type":"point","opacity":0},"encoding":{"x":{"field":"x","type":"quantitative","scale":{"domain":[4895,4925],"nice":false,"zero":false},"axis":{"orient":"bottom","values":[4895,4896,4897,4898,4899,4900,4901,4902,4903,4904,4905,4906,4907,4908,4909,4910,4911,4912,4913,4914,4915,4916,4917,4918,4919,4920,4921,4922,4923,4924,4925],"grid":true,"labels":false,"ticks":false,"domain":false,"title":null,"gridColor":"#d0d0d0","gridWidth":1.4}},"y":{"field":"y","type":"quantitative","scale":{"domain":[12.32,15.44],"reverse":true,"nice":false,"zero":false},"axis":{"orient":"left","values":[12.5,13,13.5,14,14.5,15],"format":".1f","ticks":false,"domain":false,"grid":false,"labelPadding":5,"title":"J","titleFont":"Liberation Serif","titleFontStyle":"italic","titleFontWeight":"normal","titleFontSize":11,"titlePadding":5}}}},
{"mark":{"type":"point","opacity":0},"encoding":{"x":{"field":"x","type":"quantitative","scale":{"domain":[4895,4925],"nice":false,"zero":false},"axis":null},"y":{"field":"y","type":"quantitative","scale":{"domain":[12.32,15.44],"reverse":true,"nice":false,"zero":false},"axis":{"orient":"left","tickCount":6,"labels":false,"domain":false,"grid":false,"tickSize":4,"offset":-4,"title":null}}}},
{"mark":{"type":"point","opacity":0},"encoding":{"x":{"field":"x","type":"quantitative","scale":{"domain":[4895,4925],"nice":false,"zero":false},"axis":null},"y":{"field":"y","type":"quantitative","scale":{"domain":[12.32,15.44],"reverse":true,"nice":false,"zero":false},"axis":{"orient":"left","tickCount":30,"labels":false,"domain":false,"grid":false,"tickSize":2,"offset":-2,"title":null}}}},
{"mark":{"type":"point","opacity":0},"encoding":{"x":{"field":"x","type":"quantitative","scale":{"domain":[4895,4925],"nice":false,"zero":false},"axis":null},"y":{"field":"y","type":"quantitative","scale":{"domain":[12.32,15.44],"reverse":true,"nice":false,"zero":false},"axis":{"orient":"right","tickCount":6,"labels":false,"domain":false,"grid":false,"tickSize":4,"offset":-4,"title":null}}}},
{"mark":{"type":"point","opacity":0},"encoding":{"x":{"field":"x","type":"quantitative","scale":{"domain":[4895,4925],"nice":false,"zero":false},"axis":null},"y":{"field":"y","type":"quantitative","scale":{"domain":[12.32,15.44],"reverse":true,"nice":false,"zero":false},"axis":{"orient":"right","tickCount":30,"labels":false,"domain":false,"grid":false,"tickSize":2,"offset":-2,"title":null}}}},
{"mark":{"type":"point","filled":true,"strokeWidth":1},"encoding":{"x":{"field":"x","type":"quantitative","scale":{"domain":[4895,4925],"nice":false,"zero":false},"axis":null},"y":{"field":"y","type":"quantitative","scale":{"domain":[12.32,15.44],"reverse":true,"nice":false,"zero":false},"axis":null},"shape":{"field":"k","type":"nominal","scale":{"domain":["u","r","rf","b","bf","m"],"range":["circle","diamond","diamond","square","square","triangle-up"]},"legend":null},"stroke":{"field":"k","type":"nominal","scale":{"domain":["u","r","rf","b","bf","m"],"range":["#0000ff","#ff0000","#ff0000","#333333","#000000","#ff00ff"]},"legend":null},"fill":{"field":"k","type":"nominal","scale":{"domain":["u","r","rf","b","bf","m"],"range":["rgba(40,40,255,0.75)","transparent","#ff0000","transparent","#000000","transparent"]},"legend":null},"size":{"condition":{"test":"datum.k=='bf'||datum.k=='rf'","value":40},"value":24}}}
]},
{"width":269.5,"height":45,"data":{"name":"pts"},"transform":[{"filter":"datum.b=='H'"}],"resolve":{"axis":{"x":"independent","y":"independent"}},
"layer":[
{"mark":{"type":"point","opacity":0},"encoding":{"x":{"field":"x","type":"quantitative","scale":{"domain":[4895,4925],"nice":false,"zero":false},"axis":{"orient":"bottom","values":[4895,4896,4897,4898,4899,4900,4901,4902,4903,4904,4905,4906,4907,4908,4909,4910,4911,4912,4913,4914,4915,4916,4917,4918,4919,4920,4921,4922,4923,4924,4925],"grid":true,"labels":false,"ticks":false,"domain":false,"title":null,"gridColor":"#d0d0d0","gridWidth":1.4}},"y":{"field":"y","type":"quantitative","scale":{"domain":[11.35,14.38],"reverse":true,"nice":false,"zero":false},"axis":{"orient":"left","values":[11.5,12,12.5,13,13.5,14],"format":".1f","ticks":false,"domain":false,"grid":false,"labelPadding":5,"title":"H","titleFont":"Liberation Serif","titleFontStyle":"italic","titleFontWeight":"normal","titleFontSize":11,"titlePadding":5}}}},
{"mark":{"type":"point","opacity":0},"encoding":{"x":{"field":"x","type":"quantitative","scale":{"domain":[4895,4925],"nice":false,"zero":false},"axis":null},"y":{"field":"y","type":"quantitative","scale":{"domain":[11.35,14.38],"reverse":true,"nice":false,"zero":false},"axis":{"orient":"left","tickCount":6,"labels":false,"domain":false,"grid":false,"tickSize":4,"offset":-4,"title":null}}}},
{"mark":{"type":"point","opacity":0},"encoding":{"x":{"field":"x","type":"quantitative","scale":{"domain":[4895,4925],"nice":false,"zero":false},"axis":null},"y":{"field":"y","type":"quantitative","scale":{"domain":[11.35,14.38],"reverse":true,"nice":false,"zero":false},"axis":{"orient":"left","tickCount":30,"labels":false,"domain":false,"grid":false,"tickSize":2,"offset":-2,"title":null}}}},
{"mark":{"type":"point","opacity":0},"encoding":{"x":{"field":"x","type":"quantitative","scale":{"domain":[4895,4925],"nice":false,"zero":false},"axis":null},"y":{"field":"y","type":"quantitative","scale":{"domain":[11.35,14.38],"reverse":true,"nice":false,"zero":false},"axis":{"orient":"right","tickCount":6,"labels":false,"domain":false,"grid":false,"tickSize":4,"offset":-4,"title":null}}}},
{"mark":{"type":"point","opacity":0},"encoding":{"x":{"field":"x","type":"quantitative","scale":{"domain":[4895,4925],"nice":false,"zero":false},"axis":null},"y":{"field":"y","type":"quantitative","scale":{"domain":[11.35,14.38],"reverse":true,"nice":false,"zero":false},"axis":{"orient":"right","tickCount":30,"labels":false,"domain":false,"grid":false,"tickSize":2,"offset":-2,"title":null}}}},
{"mark":{"type":"point","filled":true,"strokeWidth":1},"encoding":{"x":{"field":"x","type":"quantitative","scale":{"domain":[4895,4925],"nice":false,"zero":false},"axis":null},"y":{"field":"y","type":"quantitative","scale":{"domain":[11.35,14.38],"reverse":true,"nice":false,"zero":false},"axis":null},"shape":{"field":"k","type":"nominal","scale":{"domain":["u","r","rf","b","bf","m"],"range":["circle","diamond","diamond","square","square","triangle-up"]},"legend":null},"stroke":{"field":"k","type":"nominal","scale":{"domain":["u","r","rf","b","bf","m"],"range":["#0000ff","#ff0000","#ff0000","#333333","#000000","#ff00ff"]},"legend":null},"fill":{"field":"k","type":"nominal","scale":{"domain":["u","r","rf","b","bf","m"],"range":["rgba(40,40,255,0.75)","transparent","#ff0000","transparent","#000000","transparent"]},"legend":null},"size":{"condition":{"test":"datum.k=='bf'||datum.k=='rf'","value":40},"value":24}}}
]},
{"width":269.5,"height":45,"data":{"name":"pts"},"transform":[{"filter":"datum.b=='K'"}],"resolve":{"axis":{"x":"independent","y":"independent"}},
"layer":[
{"mark":{"type":"point","opacity":0},"encoding":{"x":{"field":"x","type":"quantitative","scale":{"domain":[4895,4925],"nice":false,"zero":false},"axis":{"orient":"bottom","values":[4895,4896,4897,4898,4899,4900,4901,4902,4903,4904,4905,4906,4907,4908,4909,4910,4911,4912,4913,4914,4915,4916,4917,4918,4919,4920,4921,4922,4923,4924,4925],"grid":true,"labels":false,"ticks":false,"domain":false,"title":null,"gridColor":"#d0d0d0","gridWidth":1.4}},"y":{"field":"y","type":"quantitative","scale":{"domain":[10.27,13.29],"reverse":true,"nice":false,"zero":false},"axis":{"orient":"left","values":[11,11.5,12,12.5,13],"format":".1f","ticks":false,"domain":false,"grid":false,"labelPadding":5,"title":"K","titleFont":"Liberation Serif","titleFontStyle":"italic","titleFontWeight":"normal","titleFontSize":11,"titlePadding":5}}}},
{"mark":{"type":"point","opacity":0},"encoding":{"x":{"field":"x","type":"quantitative","scale":{"domain":[4895,4925],"nice":false,"zero":false},"axis":{"orient":"bottom","values":[4895,4900,4905,4910,4915,4920,4925],"format":"d","ticks":false,"domain":false,"grid":false,"labelPadding":5,"labelFontSize":9,"labelFlush":false,"title":"Julian Date − 2450000","titleFont":"Liberation Sans","titleFontSize":9.5,"titleFontWeight":"normal","titlePadding":3}},"y":{"field":"y","type":"quantitative","scale":{"domain":[10.27,13.29],"reverse":true,"nice":false,"zero":false},"axis":{"orient":"left","tickCount":6,"labels":false,"domain":false,"grid":false,"tickSize":4,"offset":-4,"title":null}}}},
{"mark":{"type":"point","opacity":0},"encoding":{"x":{"field":"x","type":"quantitative","scale":{"domain":[4895,4925],"nice":false,"zero":false},"axis":null},"y":{"field":"y","type":"quantitative","scale":{"domain":[10.27,13.29],"reverse":true,"nice":false,"zero":false},"axis":{"orient":"left","tickCount":30,"labels":false,"domain":false,"grid":false,"tickSize":2,"offset":-2,"title":null}}}},
{"mark":{"type":"point","opacity":0},"encoding":{"x":{"field":"x","type":"quantitative","scale":{"domain":[4895,4925],"nice":false,"zero":false},"axis":null},"y":{"field":"y","type":"quantitative","scale":{"domain":[10.27,13.29],"reverse":true,"nice":false,"zero":false},"axis":{"orient":"right","tickCount":6,"labels":false,"domain":false,"grid":false,"tickSize":4,"offset":-4,"title":null}}}},
{"mark":{"type":"point","opacity":0},"encoding":{"x":{"field":"x","type":"quantitative","scale":{"domain":[4895,4925],"nice":false,"zero":false},"axis":null},"y":{"field":"y","type":"quantitative","scale":{"domain":[10.27,13.29],"reverse":true,"nice":false,"zero":false},"axis":{"orient":"right","tickCount":30,"labels":false,"domain":false,"grid":false,"tickSize":2,"offset":-2,"title":null}}}},
{"mark":{"type":"point","filled":true,"strokeWidth":1},"encoding":{"x":{"field":"x","type":"quantitative","scale":{"domain":[4895,4925],"nice":false,"zero":false},"axis":null},"y":{"field":"y","type":"quantitative","scale":{"domain":[10.27,13.29],"reverse":true,"nice":false,"zero":false},"axis":null},"shape":{"field":"k","type":"nominal","scale":{"domain":["u","r","rf","b","bf","m"],"range":["circle","diamond","diamond","square","square","triangle-up"]},"legend":null},"stroke":{"field":"k","type":"nominal","scale":{"domain":["u","r","rf","b","bf","m"],"range":["#0000ff","#ff0000","#ff0000","#333333","#000000","#ff00ff"]},"legend":null},"fill":{"field":"k","type":"nominal","scale":{"domain":["u","r","rf","b","bf","m"],"range":["rgba(40,40,255,0.75)","transparent","#ff0000","transparent","#000000","transparent"]},"legend":null},"size":{"condition":{"test":"datum.k=='bf'||datum.k=='rf'","value":40},"value":24}}}
]}
]
}
